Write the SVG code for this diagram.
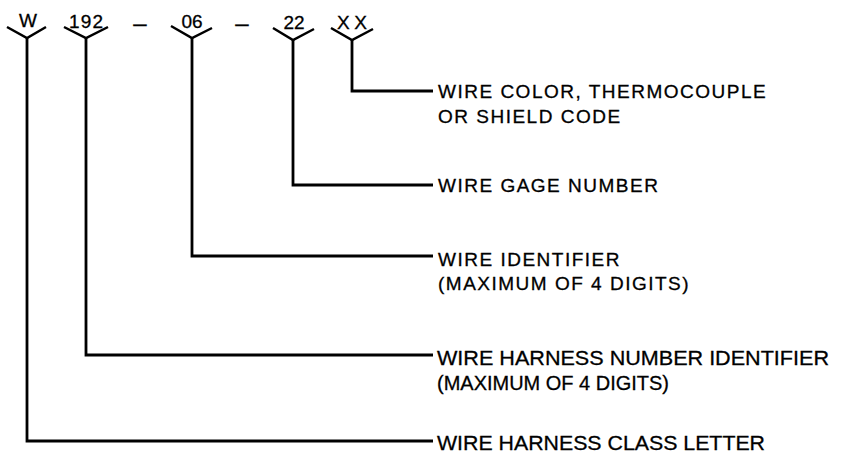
<svg xmlns="http://www.w3.org/2000/svg" width="843" height="466" viewBox="0 0 843 466">
<style>
text{font-family:"Liberation Sans",Arial,sans-serif;fill:#000;stroke:#000;stroke-width:0.3}
.top{font-size:19px;text-anchor:middle}
.dash{font-size:24px;text-anchor:middle}
.lab{font-size:19px;letter-spacing:1.5px}
.lab2{font-size:21px}
.y{fill:none;stroke:#000;stroke-width:2.5}
.c{fill:none;stroke:#000;stroke-width:2.8}
</style>
<rect width="843" height="466" fill="#fff"/>
<g id="field-w"><text class="top" x="28" y="27">W</text><polyline class="y" points="7,27 27,38 46,27"/></g>
<g id="field-192"><text class="top" x="86" y="28" textLength="34" lengthAdjust="spacing">192</text><polyline class="y" points="64,27 86,38 108,27"/></g>
<text class="dash" x="140" y="31">–</text>
<g id="field-06"><text class="top" x="192" y="28">06</text><polyline class="y" points="171,26 192,38 212,28"/></g>
<text class="dash" x="242" y="31">–</text>
<g id="field-22"><text class="top" x="294" y="29">22</text><polyline class="y" points="273,28 293,40 314,29"/></g>
<g id="field-xx"><text class="top" x="352" y="29" textLength="30" lengthAdjust="spacing">XX</text><polyline class="y" points="331,28 352,40 373,29"/></g>
<g id="connectors">
<polyline class="c" points="352,40 352,91 433,91" stroke-width="3.5"/>
<polyline class="c" points="293,40 293,185 433,185"/>
<polyline class="c" points="192,38 192,256 433,256"/>
<polyline class="c" points="86,38 86,355 433,355"/>
<polyline class="c" points="27,38 27,441 433,441"/>
</g>
<g id="label-color"><text class="lab" x="438" y="98">WIRE COLOR, THERMOCOUPLE</text><text class="lab" x="438" y="123">OR SHIELD CODE</text></g>
<g id="label-gage"><text class="lab" x="438" y="192">WIRE GAGE NUMBER</text></g>
<g id="label-ident"><text class="lab" x="438" y="266">WIRE IDENTIFIER</text><text class="lab" x="438" y="290">(MAXIMUM OF 4 DIGITS)</text></g>
<g id="label-harness"><text class="lab2" x="437" y="365" textLength="392" lengthAdjust="spacingAndGlyphs">WIRE HARNESS NUMBER IDENTIFIER</text><text class="lab2" x="437" y="390" textLength="232" lengthAdjust="spacingAndGlyphs">(MAXIMUM OF 4 DIGITS)</text></g>
<g id="label-class"><text class="lab2" x="437" y="450" textLength="328" lengthAdjust="spacingAndGlyphs">WIRE HARNESS CLASS LETTER</text></g>
</svg>
